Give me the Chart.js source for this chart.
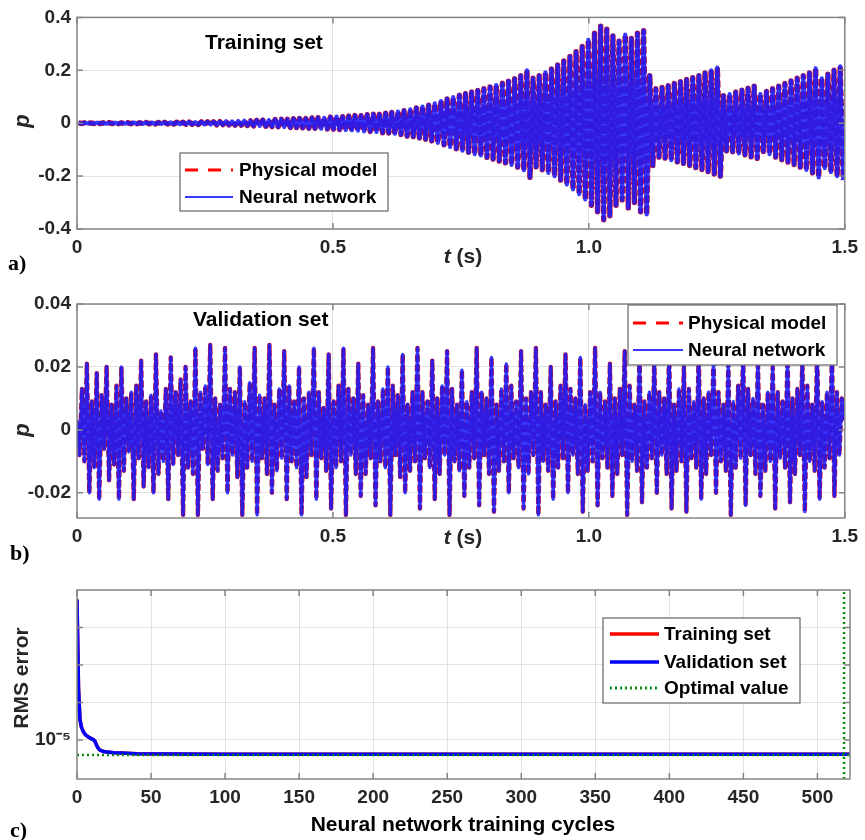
<!DOCTYPE html>
<html>
<head>
<meta charset="utf-8">
<title>Training / validation response and RMS error</title>
<script src="https://cdn.jsdelivr.net/npm/chart.js@4.4.1/dist/chart.umd.min.js"></script>
<style>
  html, body { margin: 0; padding: 0; background: #ffffff; }
  #page { position: relative; width: 865px; height: 840px; overflow: hidden; }
  #page canvas { position: absolute; left: 0; }
</style>
</head>
<body>
<div id="page">
  <canvas id="chartA" width="865" height="280" style="top:0px"></canvas>
  <canvas id="chartB" width="865" height="290" style="top:280px"></canvas>
  <canvas id="chartC" width="865" height="270" style="top:570px"></canvas>
</div>
<script>
// ---------- DATA ----------

// axis ticks
const tTicks = [0, 0.5, 1.0, 1.5];
const tTickLabels = ['0', '0.5', '1.0', '1.5'];
const pTicksA = [-0.4, -0.2, 0, 0.2, 0.4];
const pTickLabelsA = ['-0.4', '-0.2', '0', '0.2', '0.4'];
const pTicksB = [-0.02, 0, 0.02, 0.04];
const pTickLabelsB = ['-0.02', '0', '0.02', '0.04'];
const cycleTicks = [0, 50, 100, 150, 200, 250, 300, 350, 400, 450, 500];
const cycleTickLabels = ['0', '50', '100', '150', '200', '250', '300', '350', '400', '450', '500'];
const rmsTicks = [1e-5, 1e-4, 1e-3, 1e-2];
const rmsTickLabels = ['10\u207B\u2075', '', '', ''];

// a) training set: successive extrema of p, one every half period (0.006 s)
const trainingPhysical = [
  0.001, -0.001, 0.0015, -0.001, 0.001, -0.0015, 0.002, -0.0015, 0.0015, -0.002,
  0.002, -0.0015, 0.002, -0.002, 0.0015, -0.002, 0.002, -0.002, 0.0025, -0.002,
  0.002, -0.0025, 0.003, -0.0025, 0.0025, -0.003, 0.003, -0.003, 0.0035, -0.003,
  0.003, -0.0035, 0.004, -0.0035, 0.004, -0.004, 0.0045, -0.004, 0.004, -0.005,
  0.005, -0.0045, 0.0055, -0.005, 0.005, -0.006, 0.006, -0.0055, 0.007, -0.0065,
  0.0065, -0.0075, 0.008, -0.0075, 0.009, -0.0085, 0.0085, -0.01, 0.011, -0.01,
  0.012, -0.0115, 0.0115, -0.013, 0.014, -0.0135, 0.015, -0.0145, 0.0145, -0.016,
  0.017, -0.0165, 0.018, -0.0175, 0.0175, -0.019, 0.02, -0.0195, 0.021, -0.0205,
  0.0205, -0.022, 0.023, -0.0225, 0.025, -0.024, 0.0245, -0.026, 0.027, -0.0265,
  0.029, -0.028, 0.0285, -0.031, 0.032, -0.031, 0.034, -0.033, 0.0335, -0.036,
  0.038, -0.037, 0.041, -0.04, 0.044, -0.043, 0.0475, -0.049, 0.052, -0.051,
  0.058, -0.056, 0.063, -0.061, 0.068, -0.067, 0.075, -0.074, 0.084, -0.082,
  0.092, -0.09, 0.099, -0.097, 0.106, -0.104, 0.112, -0.11, 0.118, -0.117,
  0.124, -0.122, 0.13, -0.129, 0.137, -0.136, 0.144, -0.143, 0.151, -0.15,
  0.159, -0.158, 0.168, -0.166, 0.18, -0.178, 0.2, -0.205, 0.17, -0.165,
  0.18, -0.176, 0.192, -0.188, 0.205, -0.2, 0.22, -0.215, 0.235, -0.232,
  0.252, -0.25, 0.27, -0.268, 0.29, -0.288, 0.315, -0.31, 0.34, -0.335,
  0.367, -0.365, 0.355, -0.35, 0.33, -0.31, 0.31, -0.29, 0.335, -0.32,
  0.32, -0.3, 0.34, -0.335, 0.35, -0.345, 0.18, -0.16, 0.13, -0.128,
  0.135, -0.132, 0.142, -0.14, 0.15, -0.146, 0.157, -0.152, 0.165, -0.16,
  0.172, -0.168, 0.18, -0.175, 0.19, -0.183, 0.2, -0.192, 0.21, -0.2,
  0.104, -0.105, 0.11, -0.108, 0.118, -0.114, 0.125, -0.12, 0.132, -0.127,
  0.14, -0.133, 0.11, -0.107, 0.12, -0.117, 0.13, -0.128, 0.14, -0.138,
  0.15, -0.147, 0.16, -0.156, 0.17, -0.166, 0.18, -0.177, 0.19, -0.188,
  0.207, -0.205, 0.17, -0.17, 0.185, -0.185, 0.2, -0.2, 0.215, -0.215
];
// the network output lies on top of the physical model
const trainingNetwork = trainingPhysical;

// b) validation set: successive extrema of p, one every 0.00482 s
const validationPhysical = [
  0.003, -0.008, 0.013, -0.01, 0.021, -0.02,
  0.009, -0.012, 0.018, -0.022, 0.011, -0.006,
  0.02, -0.016, 0.008, -0.011, 0.014, -0.022,
  0.02, -0.013, 0.01, -0.007, 0.012, -0.022,
  0.014, -0.009, 0.022, -0.018, 0.009, -0.012,
  0.011, -0.02, 0.024, -0.014, 0.006, -0.01,
  0.013, -0.022, 0.023, -0.011, 0.012, -0.008,
  0.016, -0.027, 0.02, -0.012, 0.009, -0.014,
  0.026, -0.027, 0.012, -0.006, 0.014, -0.011,
  0.027, -0.022, 0.01, -0.013, 0.008, -0.009,
  0.026, -0.02, 0.013, -0.008, 0.012, -0.015,
  0.02, -0.027, 0.009, -0.012, 0.015, -0.01,
  0.026, -0.027, 0.011, -0.009, 0.01, -0.014,
  0.027, -0.02, 0.008, -0.013, 0.013, -0.009,
  0.025, -0.022, 0.014, -0.01, 0.009, -0.012,
  0.02, -0.027, 0.01, -0.015, 0.012, -0.008,
  0.026, -0.022, 0.012, -0.009, 0.007, -0.013,
  0.024, -0.025, 0.009, -0.012, 0.014, -0.01,
  0.026, -0.027, 0.013, -0.008, 0.01, -0.014,
  0.021, -0.021, 0.011, -0.014, 0.008, -0.009,
  0.026, -0.024, 0.009, -0.01, 0.013, -0.012,
  0.02, -0.027, 0.014, -0.008, 0.011, -0.015,
  0.024, -0.02, 0.008, -0.013, 0.012, -0.01,
  0.026, -0.025, 0.012, -0.009, 0.009, -0.012,
  0.022, -0.022, 0.01, -0.014, 0.014, -0.008,
  0.025, -0.027, 0.013, -0.01, 0.008, -0.013,
  0.019, -0.021, 0.009, -0.012, 0.012, -0.009,
  0.026, -0.024, 0.012, -0.008, 0.01, -0.014,
  0.023, -0.026, 0.008, -0.013, 0.013, -0.01,
  0.021, -0.02, 0.014, -0.009, 0.009, -0.012,
  0.025, -0.025, 0.01, -0.014, 0.012, -0.008,
  0.026, -0.027, 0.012, -0.01, 0.008, -0.013,
  0.02, -0.022, 0.009, -0.012, 0.014, -0.009,
  0.024, -0.02, 0.013, -0.008, 0.01, -0.014,
  0.023, -0.026, 0.008, -0.013, 0.012, -0.01,
  0.026, -0.024, 0.012, -0.009, 0.009, -0.012,
  0.021, -0.021, 0.01, -0.014, 0.013, -0.008,
  0.025, -0.027, 0.014, -0.01, 0.008, -0.013,
  0.024, -0.023, 0.009, -0.012, 0.012, -0.009,
  0.022, -0.02, 0.012, -0.008, 0.01, -0.014,
  0.026, -0.025, 0.008, -0.013, 0.013, -0.01,
  0.02, -0.026, 0.013, -0.009, 0.009, -0.012,
  0.025, -0.022, 0.01, -0.014, 0.012, -0.008,
  0.023, -0.02, 0.012, -0.01, 0.008, -0.013,
  0.021, -0.027, 0.009, -0.012, 0.014, -0.009,
  0.025, -0.024, 0.013, -0.008, 0.01, -0.014,
  0.022, -0.021, 0.008, -0.013, 0.012, -0.01,
  0.02, -0.025, 0.012, -0.009, 0.009, -0.012,
  0.024, -0.023, 0.01, -0.014, 0.013, -0.008,
  0.022, -0.026, 0.014, -0.01, 0.008, -0.013,
  0.025, -0.022, 0.009, -0.012, 0.012, -0.009,
  0.024, -0.021, 0.012, -0.008, 0.01, 0.003
];
const validationNetwork = validationPhysical;

// c) RMS error against training cycle
const cycles = [0, 1, 2, 3, 4, 5, 6, 7, 8, 9, 10, 11, 12, 13, 14, 15, 16, 18, 20, 25, 30, 40, 60, 100, 522];
const rmsValidation = [5.6e-2, 2.5e-4, 3.5e-5, 2.2e-5, 1.75e-5, 1.5e-5, 1.35e-5, 1.26e-5, 1.17e-5, 1.12e-5,
  1.07e-5, 1.02e-5, 9.5e-6, 7.6e-6, 6.3e-6, 5.6e-6, 5.25e-6, 4.9e-6, 4.8e-6, 4.57e-6,
  4.47e-6, 4.3e-6, 4.2e-6, 4.17e-6, 4.17e-6];
// training curve is hidden under the validation curve
const rmsTraining = rmsValidation;
const optimalCycle = 518;
const optimalRms = 4.0e-6;


// ---------- HELPERS ----------

const fontFamily = '"Liberation Sans", Arial, Helvetica, sans-serif';
const tickFont = { family: fontFamily, size: 19, weight: 'bold' };
const tickColor = '#262626';
const gridColor = '#e2e2e2';

function series(values, t0, dt) {
  return values.map((v, i) => ({ x: t0 + i * dt, y: v }));
}

function pairs(xs, ys) {
  return xs.map((x, i) => ({ x: x, y: ys[i] }));
}

function buildScales(cfg) {
  return {
    x: {
      type: 'linear',
      min: cfg.xMin,
      max: cfg.xMax,
      afterFit: s => { s.height = cfg.xAxisHeight; },
      afterBuildTicks: s => { s.ticks = cfg.xTicks.map(v => ({ value: v })); },
      ticks: {
        autoSkip: false, maxRotation: 0, padding: 7,
        color: tickColor, font: tickFont,
        callback: (v, i) => cfg.xLabels[i]
      },
      grid: { color: gridColor, lineWidth: 1, drawTicks: false },
      border: { display: false }
    },
    y: {
      type: cfg.yType || 'linear',
      min: cfg.yMin,
      max: cfg.yMax,
      afterFit: s => { s.width = 77; },
      afterBuildTicks: s => { s.ticks = cfg.yTicks.map(v => ({ value: v })); },
      ticks: {
        autoSkip: false, padding: 6,
        color: tickColor, font: tickFont,
        callback: (v, i) => cfg.yLabels[i]
      },
      grid: { color: gridColor, lineWidth: 1, drawTicks: false },
      border: { display: false }
    }
  };
}

function baseOptions(cfg) {
  return {
    responsive: false,
    animation: false,
    events: [],
    layout: { padding: { top: cfg.padTop, right: 15, left: 0, bottom: 0 } },
    plugins: { legend: { display: false }, tooltip: { enabled: false } },
    elements: { point: { radius: 0 }, line: { tension: 0, borderJoinStyle: 'round' } },
    scales: buildScales(cfg)
  };
}

function drawLegend(ctx, box, entries) {
  ctx.save();
  ctx.fillStyle = '#ffffff';
  ctx.fillRect(box.x, box.y, box.w, box.h);
  ctx.strokeStyle = '#707070';
  ctx.lineWidth = 1.3;
  ctx.strokeRect(box.x, box.y, box.w, box.h);
  entries.forEach(e => {
    ctx.beginPath();
    ctx.setLineDash(e.dash || []);
    ctx.lineWidth = e.width;
    ctx.strokeStyle = e.color;
    ctx.moveTo(box.lineX0, e.y);
    ctx.lineTo(box.lineX1, e.y);
    ctx.stroke();
    ctx.setLineDash([]);
    ctx.fillStyle = '#000000';
    ctx.font = 'bold 19px ' + fontFamily;
    ctx.textAlign = 'left';
    ctx.textBaseline = 'middle';
    ctx.fillText(e.label, box.textX, e.y + 1);
  });
  ctx.restore();
}

// MATLAB-like box with inward ticks, then the panel's own decorations
function framePlugin(id, decorate) {
  return {
    id: id,
    afterDraw(chart) {
      const ctx = chart.ctx, a = chart.chartArea;
      const xs = chart.scales.x, ys = chart.scales.y;
      ctx.save();
      ctx.strokeStyle = '#858585';
      ctx.lineWidth = 1.5;
      ctx.strokeRect(a.left, a.top, a.right - a.left, a.bottom - a.top);
      ctx.beginPath();
      xs.ticks.forEach(t => {
        const px = xs.getPixelForValue(t.value);
        ctx.moveTo(px, a.bottom); ctx.lineTo(px, a.bottom - 6);
        ctx.moveTo(px, a.top); ctx.lineTo(px, a.top + 6);
      });
      ys.ticks.forEach(t => {
        const py = ys.getPixelForValue(t.value);
        ctx.moveTo(a.left, py); ctx.lineTo(a.left + 6, py);
        ctx.moveTo(a.right, py); ctx.lineTo(a.right - 6, py);
      });
      ctx.stroke();
      ctx.restore();
      decorate(ctx, a);
    }
  };
}

function rotatedText(ctx, str, x, y, font) {
  ctx.save();
  ctx.translate(x, y);
  ctx.rotate(-Math.PI / 2);
  ctx.font = font;
  ctx.fillStyle = '#262626';
  ctx.textAlign = 'center';
  ctx.textBaseline = 'middle';
  ctx.fillText(str, 0, 0);
  ctx.restore();
}

function timeLabel(ctx, cx, cy) {
  ctx.save();
  const italic = 'italic bold 21px ' + fontFamily;
  const plain = 'bold 21px ' + fontFamily;
  ctx.font = italic;
  const w1 = ctx.measureText('t').width;
  ctx.font = plain;
  const w2 = ctx.measureText(' (s)').width;
  const x0 = cx - (w1 + w2) / 2;
  ctx.fillStyle = '#262626';
  ctx.textBaseline = 'middle';
  ctx.textAlign = 'left';
  ctx.font = italic;
  ctx.fillText('t', x0, cy);
  ctx.font = plain;
  ctx.fillText(' (s)', x0 + w1, cy);
  ctx.restore();
}

function plainText(ctx, str, x, y, font, align) {
  ctx.save();
  ctx.font = font;
  ctx.fillStyle = '#000000';
  ctx.textAlign = align || 'left';
  ctx.textBaseline = 'middle';
  ctx.fillText(str, x, y);
  ctx.restore();
}

function panelTag(ctx, str, x, y) {
  ctx.save();
  ctx.font = 'bold 22px "Liberation Serif", "Times New Roman", serif';
  ctx.fillStyle = '#000000';
  ctx.textAlign = 'left';
  ctx.textBaseline = 'alphabetic';
  ctx.fillText(str, x, y);
  ctx.restore();
}

const redModel = '#c0102e';
const blueNet = 'rgba(28, 28, 250, 0.88)';


// ---------- a) TRAINING SET ----------

new Chart(document.getElementById('chartA'), {
  type: 'line',
  data: {
    datasets: [
      {
        label: 'Physical model',
        data: series(trainingPhysical, 0.003, 0.006),
        borderColor: redModel, borderWidth: 5.4, borderDash: [7, 3], order: 2
      },
      {
        label: 'Neural network',
        data: series(trainingNetwork, 0.003, 0.006),
        borderColor: blueNet, borderWidth: 4.2, order: 1
      }
    ]
  },
  options: baseOptions({
    padTop: 13, xAxisHeight: 51,
    xMin: 0, xMax: 1.5, xTicks: tTicks, xLabels: tTickLabels,
    yMin: -0.4, yMax: 0.4, yTicks: pTicksA, yLabels: pTickLabelsA
  }),
  plugins: [framePlugin('frameA', (ctx, a) => {
    plainText(ctx, 'Training set', 205, 43, 'bold 21px ' + fontFamily);
    drawLegend(ctx, { x: 180, y: 153, w: 208, h: 58, lineX0: 185, lineX1: 233, textX: 239 }, [
      { label: 'Physical model', color: '#ff0000', width: 3, dash: [13, 10], y: 170 },
      { label: 'Neural network', color: '#3a3aff', width: 2, y: 197 }
    ]);
    rotatedText(ctx, 'p', 23, 121, 'italic bold 22px ' + fontFamily);
    timeLabel(ctx, 463, 257);
    panelTag(ctx, 'a)', 8, 270);
  })]
});


// ---------- b) VALIDATION SET ----------

new Chart(document.getElementById('chartB'), {
  type: 'line',
  data: {
    datasets: [
      {
        label: 'Physical model',
        data: series(validationPhysical, 0, 0.00482),
        borderColor: redModel, borderWidth: 4.4, borderDash: [7, 3], order: 2
      },
      {
        label: 'Neural network',
        data: series(validationNetwork, 0, 0.00482),
        borderColor: blueNet, borderWidth: 3.3, order: 1
      }
    ]
  },
  options: baseOptions({
    padTop: 24, xAxisHeight: 52,
    xMin: 0, xMax: 1.5, xTicks: tTicks, xLabels: tTickLabels,
    yMin: -0.028, yMax: 0.04, yTicks: pTicksB, yLabels: pTickLabelsB
  }),
  plugins: [framePlugin('frameB', (ctx, a) => {
    plainText(ctx, 'Validation set', 193, 40, 'bold 21px ' + fontFamily);
    drawLegend(ctx, { x: 628, y: 25, w: 209, h: 60, lineX0: 633, lineX1: 683, textX: 688 }, [
      { label: 'Physical model', color: '#ff0000', width: 3, dash: [13, 10], y: 43 },
      { label: 'Neural network', color: '#3a3aff', width: 2, y: 70 }
    ]);
    rotatedText(ctx, 'p', 23, 150, 'italic bold 22px ' + fontFamily);
    timeLabel(ctx, 463, 258);
    panelTag(ctx, 'b)', 10, 280);
  })]
});


// ---------- c) RMS ERROR ----------

const rmsMin = 9.1e-7;
const rmsMax = 0.1;

new Chart(document.getElementById('chartC'), {
  type: 'line',
  data: {
    datasets: [
      {
        label: 'Training set',
        data: pairs(cycles, rmsTraining),
        borderColor: '#ff0000', borderWidth: 3.5, order: 3
      },
      {
        label: 'Validation set',
        data: pairs(cycles, rmsValidation),
        borderColor: '#0000ff', borderWidth: 3.5, order: 2
      },
      {
        label: 'Optimal value',
        data: [{ x: 0, y: optimalRms }, { x: 522, y: optimalRms }],
        borderColor: '#0b8a0b', borderWidth: 2.5, borderDash: [2, 3], order: 1
      },
      {
        label: 'Optimal value',
        data: [{ x: optimalCycle, y: rmsMin }, { x: optimalCycle, y: rmsMax }],
        borderColor: '#0b8a0b', borderWidth: 2.5, borderDash: [2, 3], order: 1
      }
    ]
  },
  options: baseOptions({
    padTop: 20, xAxisHeight: 61,
    xMin: 0, xMax: 522, xTicks: cycleTicks, xLabels: cycleTickLabels,
    yType: 'logarithmic', yMin: rmsMin, yMax: rmsMax, yTicks: rmsTicks, yLabels: rmsTickLabels
  }),
  plugins: [framePlugin('frameC', (ctx, a) => {
    drawLegend(ctx, { x: 603, y: 48, w: 197, h: 85, lineX0: 610, lineX1: 659, textX: 664 }, [
      { label: 'Training set', color: '#ff0000', width: 3.5, y: 64 },
      { label: 'Validation set', color: '#0000ff', width: 3.5, y: 92 },
      { label: 'Optimal value', color: '#0b8a0b', width: 3, dash: [2, 3], y: 118 }
    ]);
    rotatedText(ctx, 'RMS error', 22, 108, 'bold 21px ' + fontFamily);
    plainText(ctx, 'Neural network training cycles', 463, 255, 'bold 21px ' + fontFamily, 'center');
    panelTag(ctx, 'c)', 10, 267);
  })]
});
</script>
</body>
</html>
